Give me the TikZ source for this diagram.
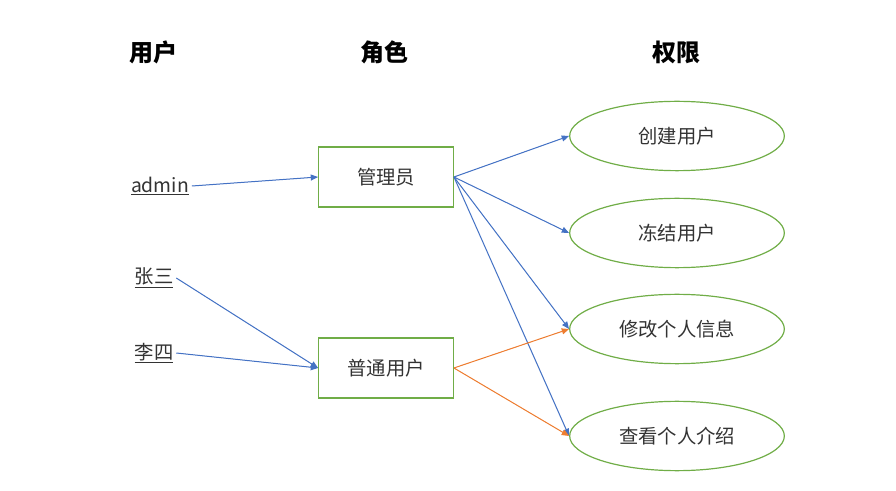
\documentclass[tikz,border=0pt]{standalone}
\usepackage{fontspec}
\setmainfont{Noto Sans CJK SC}
\usetikzlibrary{arrows.meta,shapes.geometric,positioning}
\definecolor{linkblue}{HTML}{4472C4}
\definecolor{linkorange}{HTML}{ED7D31}
\definecolor{boxgreen}{HTML}{70AD47}

\begin{document}
\begin{tikzpicture}[x=0.75pt,y=-0.75pt,>={Triangle[length=5.5pt,width=4.5pt]},
  head/.style={font=\fontsize{18}{21}\selectfont\bfseries},
  user/.style={font=\fontsize{14.5}{17}\selectfont,inner sep=2pt,text=black!80},
  role/.style={draw=boxgreen,line width=0.9pt,minimum width=101pt,minimum height=45pt,font=\fontsize{14.5}{17}\selectfont,text=black!80},
  perm/.style={ellipse,draw=boxgreen,line width=0.9pt,minimum width=161pt,minimum height=52pt,font=\fontsize{14.5}{17}\selectfont,text=black!80},
  blueline/.style={->,draw=linkblue,fill=linkblue,line width=0.75pt},
  orangeline/.style={->,draw=linkorange,fill=linkorange,line width=0.75pt}]
\useasboundingbox (0,0) rectangle (896,491);
% column heads
\node[head] (hUser) at (153,52) {用户};
\node[head] (hRole) at (384,52) {角色};
\node[head] (hPerm) at (676,52) {权限};
% users
\node[user] (admin) at (160,186) {\underline{admin}};
\node[user] (zs) at (154,278) {\underline{张三}};
\node[user] (ls) at (154,353) {\underline{李四}};
% roles
\node[role] (mgr) at (386,177) {管理员};
\node[role] (normal) at (386,368) {普通用户};
% permissions
\node[perm] (p1) at (677,136) {创建用户};
\node[perm] (p2) at (677,233) {冻结用户};
\node[perm] (p3) at (677,329) {修改个人信息};
\node[perm] (p4) at (677,436) {查看个人介绍};

\draw[blueline] (admin.east) -- (mgr.west);
\draw[blueline] (zs.east) -- (normal.west);
\draw[blueline] (ls.east) -- (normal.west);
\foreach \p in {p1,p2,p3,p4}
  \draw[blueline] (mgr.east) -- (\p.west);
\foreach \p in {p3,p4}
  \draw[orangeline] (normal.east) -- (\p.west);
\end{tikzpicture}
\end{document}
